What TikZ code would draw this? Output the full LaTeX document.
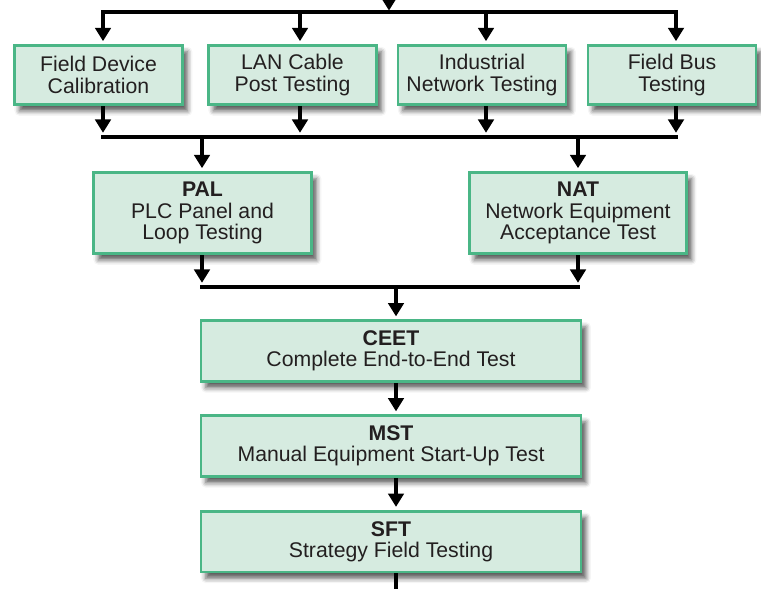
\documentclass[tikz,border=0pt]{standalone}
\usepackage{fontspec}
\setmainfont{Liberation Sans}
\usepackage{xcolor}
\usetikzlibrary{arrows.meta, positioning, shadows, shadows.blur, calc}
\definecolor{stepfill}{RGB}{214,235,224}
\definecolor{stepline}{RGB}{74,182,134}
\definecolor{steptext}{RGB}{35,31,32}

\begin{document}
\begin{tikzpicture}[x=0.025cm, y=-0.025cm,
    test/.style={rectangle, draw=stepline, line width=2pt, fill=stepfill,
                 text=steptext, inner sep=0pt, align=center,
                 font=\fontsize{15.1}{15.2}\selectfont,
                 blur shadow={shadow xshift=3.5pt, shadow yshift=-4.5pt,
                              shadow blur radius=3.5pt, shadow opacity=65}},
    field/.style={test, minimum width=4.2cm, minimum height=1.48cm},
    stage/.style={test, minimum width=9.5cm, minimum height=1.52cm},
    flow/.style={line width=2.6pt, -{Triangle[length=9.5pt, width=11pt]}},
    bus/.style={line width=2.6pt, line cap=rect}]

    \useasboundingbox (0,0) rectangle (761,588);

    % Field tests
    \node[field] (fdc) at (98.5,75) {Field Device\\Calibration};
    \node[field] (lan) at (292.5,75) {LAN Cable\\Post Testing};
    \node[field] (int) at (482,75) {Industrial\\Network Testing};
    \node[field] (fbt) at (672,75) {Field Bus\\Testing};

    % Panel and network acceptance
    \node[test, minimum width=5.45cm, minimum height=2.03cm] (pal) at (202.5,213)
        {\textbf{PAL}\\PLC Panel and\\Loop Testing};
    \node[test, minimum width=5.43cm, minimum height=2.03cm] (nat) at (578,213)
        {\textbf{NAT}\\Network Equipment\\Acceptance Test};

    % Site stages
    \node[stage] (ceet) at (391,351) {\textbf{CEET}\\Complete End-to-End Test};
    \node[stage] (mst) at (391,446) {\textbf{MST}\\Manual Equipment Start-Up Test};
    \node[stage] (sft) at (391,541.5) {\textbf{SFT}\\Strategy Field Testing};

    % Bus points
    \coordinate (in) at (389,-2);
    \coordinate (tin) at (389,12);
    \coordinate (t1) at (103,12);
    \coordinate (t2) at (300,12);
    \coordinate (t3) at (486,12);
    \coordinate (t4) at (676,12);
    \coordinate (b1) at (103,137);
    \coordinate (b2) at (300,137);
    \coordinate (b3) at (486,137);
    \coordinate (b4) at (676,137);
    \coordinate (b5) at (202,137);
    \coordinate (b6) at (578,137);
    \coordinate (c1) at (202,287);
    \coordinate (c2) at (578,287);
    \coordinate (c3) at (396,287);
    \coordinate (out) at (396,590);

    % Top feed
    \draw[flow, shorten >=1pt] (in) -- (tin);
    \draw[bus] (t1) -- (t4);
    \draw[flow, shorten >=2pt] (t1) -- (t1 |- fdc.north);
    \draw[flow, shorten >=2pt] (t2) -- (t2 |- lan.north);
    \draw[flow, shorten >=2pt] (t3) -- (t3 |- int.north);
    \draw[flow, shorten >=2pt] (t4) -- (t4 |- fbt.north);

    % Field tests to PAL / NAT
    \draw[flow, shorten >=3pt] (b1 |- fdc.south) -- (b1);
    \draw[flow, shorten >=3pt] (b2 |- lan.south) -- (b2);
    \draw[flow, shorten >=3pt] (b3 |- int.south) -- (b3);
    \draw[flow, shorten >=3pt] (b4 |- fbt.south) -- (b4);
    \draw[bus] (b1) -- (b4);
    \draw[flow, shorten >=2pt] (b5) -- (b5 |- pal.north);
    \draw[flow, shorten >=2pt] (b6) -- (b6 |- nat.north);

    % PAL / NAT to CEET
    \draw[flow, shorten >=3pt] (c1 |- pal.south) -- (c1);
    \draw[flow, shorten >=3pt] (c2 |- nat.south) -- (c2);
    \draw[bus] (c1) -- (c2);
    \draw[flow, shorten >=2pt] (c3) -- (c3 |- ceet.north);

    % Stages
    \draw[flow, shorten >=2pt] (c3 |- ceet.south) -- (c3 |- mst.north);
    \draw[flow, shorten >=2pt] (c3 |- mst.south) -- (c3 |- sft.north);
    \draw[line width=2.6pt] (c3 |- sft.south) -- (out);
\end{tikzpicture}
\end{document}
